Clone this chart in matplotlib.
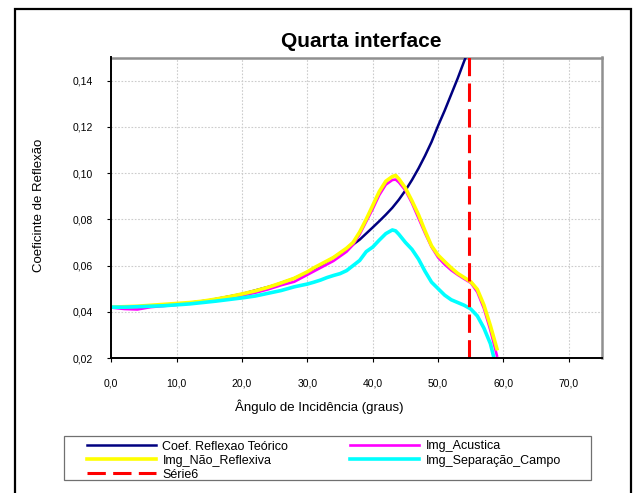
import matplotlib
matplotlib.use("Agg")
import matplotlib.pyplot as plt
from matplotlib.patches import Rectangle

plt.rcParams['font.family'] = ['Liberation Sans', 'DejaVu Sans']

# ---------------- data ----------------
theo_x = [0, 5, 10, 15, 20, 25, 28, 30, 32, 34, 36, 38, 40, 41, 42, 43, 44, 45, 46, 47, 48,
          49, 50, 51, 52, 53, 54, 54.5]
theo_y = [0.0418, 0.0422, 0.0432, 0.0450, 0.0477, 0.0515, 0.0545, 0.0570, 0.0600, 0.0635,
          0.0670, 0.0712, 0.0765, 0.0792, 0.0820, 0.0850, 0.0885, 0.0925, 0.0970, 0.1020,
          0.1075, 0.1135, 0.1205, 0.1270, 0.1340, 0.1410, 0.1485, 0.1520]

exp_x = [0, 2, 4, 6, 8, 10, 12, 14, 16, 18, 20, 22, 24, 26, 28, 30, 31, 32, 33, 34, 35, 36,
         37, 38, 39, 40, 41, 42, 43, 43.5, 44, 45, 46, 47, 48, 49, 50, 51, 52, 53, 54, 55,
         56, 57, 58, 59]

acustica_y = [0.0418, 0.0412, 0.0410, 0.0420, 0.0425, 0.0430, 0.0436, 0.0442, 0.0450, 0.0460,
              0.0470, 0.0482, 0.0497, 0.0515, 0.0530, 0.0560, 0.0575, 0.0590, 0.0605, 0.0620,
              0.0640, 0.0660, 0.0690, 0.0735, 0.0790, 0.0845, 0.0905, 0.0950, 0.0970, 0.0972,
              0.0960, 0.0925, 0.0870, 0.0805, 0.0740, 0.0680, 0.0635, 0.0605, 0.0580, 0.0560,
              0.0542, 0.0525, 0.0485, 0.0415, 0.0320, 0.0210]

nao_reflexiva_y = [0.0420, 0.0422, 0.0424, 0.0428, 0.0432, 0.0436, 0.0440, 0.0446, 0.0455, 0.0465,
                   0.0477, 0.0490, 0.0506, 0.0525, 0.0545, 0.0573, 0.0590, 0.0605, 0.0620, 0.0635,
                   0.0655, 0.0675, 0.0700, 0.0745, 0.0800, 0.0860, 0.0920, 0.0965, 0.0985, 0.0990,
                   0.0975, 0.0935, 0.0880, 0.0820, 0.0750, 0.0685, 0.0645, 0.0617, 0.0590, 0.0566,
                   0.0548, 0.0530, 0.0497, 0.0430, 0.0340, 0.0240]

separacao_y = [0.0420, 0.0420, 0.0422, 0.0424, 0.0426, 0.0430, 0.0434, 0.0440, 0.0446, 0.0453,
               0.0460, 0.0468, 0.0480, 0.0492, 0.0508, 0.0520, 0.0528, 0.0537, 0.0548, 0.0557,
               0.0565, 0.0578, 0.0600, 0.0622, 0.0660, 0.0680, 0.0710, 0.0738, 0.0754, 0.0750,
               0.0735, 0.0700, 0.0670, 0.0628, 0.0575, 0.0528, 0.0500, 0.0472, 0.0452, 0.0440,
               0.0428, 0.0412, 0.0382, 0.0330, 0.0262, 0.0150]

serie6_x = [54.7, 54.7]
serie6_y = [0.02, 0.15]

x_ticks = [0, 10, 20, 30, 40, 50, 60, 70]
x_labels = ['0,0', '10,0', '20,0', '30,0', '40,0', '50,0', '60,0', '70,0']
y_ticks = [0.02, 0.04, 0.06, 0.08, 0.10, 0.12, 0.14]
y_labels = ['0,02', '0,04', '0,06', '0,08', '0,10', '0,12', '0,14']

names = ['Coef. Reflexao Teórico', 'Img_Acustica', 'Img_Não_Reflexiva',
         'Img_Separação_Campo', 'Série6']

# ---------------- figure ----------------
W, H = 634, 493
fig = plt.figure(figsize=(W / 100, H / 100), dpi=100)
fig.patch.set_facecolor('white')

def fx(px):
    return px / W

def fy(py):
    return 1 - py / H

ax = fig.add_axes([fx(111.3), fy(358), fx(601.5) - fx(111.3), fy(57.5) - fy(358)])
ax.set_xlim(0, 75)
ax.set_ylim(0.02, 0.15)

ax.grid(True, color='#cccccc', linestyle=(0, (1.5, 1.5)), linewidth=0.8)
ax.set_axisbelow(True)

l_theo, = ax.plot(theo_x, theo_y, color='#000080', lw=1.8, label=names[0], zorder=3)
l_ac, = ax.plot(exp_x, acustica_y, color='#FF00FF', lw=1.9, label=names[1], zorder=4)
l_nr, = ax.plot(exp_x, nao_reflexiva_y, color='#FFFF00', lw=2.6, label=names[2], zorder=5)
l_sep, = ax.plot(exp_x, separacao_y, color='#00FFFF', lw=2.6, label=names[3], zorder=6)
l_s6, = ax.plot(serie6_x, serie6_y, color='#FF0000', lw=2.2, dashes=(6.0, 2.4),
                label=names[4], zorder=7)

ax.set_xticks(x_ticks)
ax.set_xticklabels(x_labels)
ax.set_yticks(y_ticks)
ax.set_yticklabels(y_labels)
ax.tick_params(axis='both', direction='out', length=3, width=0.8, labelsize=7.5,
               colors='black')
ax.tick_params(axis='x', pad=11.5)
ax.tick_params(axis='y', pad=10.5)

for side in ('top', 'right'):
    ax.spines[side].set_color('#909090')
    ax.spines[side].set_linewidth(1.8)
for side in ('left', 'bottom'):
    ax.spines[side].set_color('black')
    ax.spines[side].set_linewidth(1.4)
    ax.spines[side].set_zorder(8)

# titles
fig.text(fx(361.3), fy(46.7), 'Quarta interface', ha='center', va='baseline',
         fontsize=15, fontweight='bold')
fig.text(fx(319.5), fy(407), 'Ângulo de Incidência (graus)', ha='center', va='center',
         fontsize=9.5)
fig.text(fx(39.2), fy(205.4), 'Coeficinte de Reflexão', ha='center', va='center',
         rotation=90, fontsize=9.5)

# legend box
fig.patches.append(Rectangle((fx(63.6), fy(479.5)), fx(591) - fx(63.6), fy(436) - fy(479.5),
                             transform=fig.transFigure, fill=False, edgecolor='#707070',
                             linewidth=0.9))
handles = [l_theo, l_nr, l_s6, l_ac, l_sep]
leg = fig.legend(handles=handles, labels=[h.get_label() for h in handles],
                 loc='upper left', bbox_to_anchor=(fx(86.8), fy(440.5)),
                 ncol=2, frameon=False, fontsize=9, borderpad=0, borderaxespad=0,
                 handlelength=5.5, handletextpad=0.55, labelspacing=0.17,
                 columnspacing=4.95)

# outer frame
fig.patches.append(Rectangle((fx(14.7), -0.05), fx(631) - fx(14.7), fy(8.5) + 0.05,
                             transform=fig.transFigure, fill=False, edgecolor='black',
                             linewidth=1.6))

fig.savefig('out.png', dpi=100)
